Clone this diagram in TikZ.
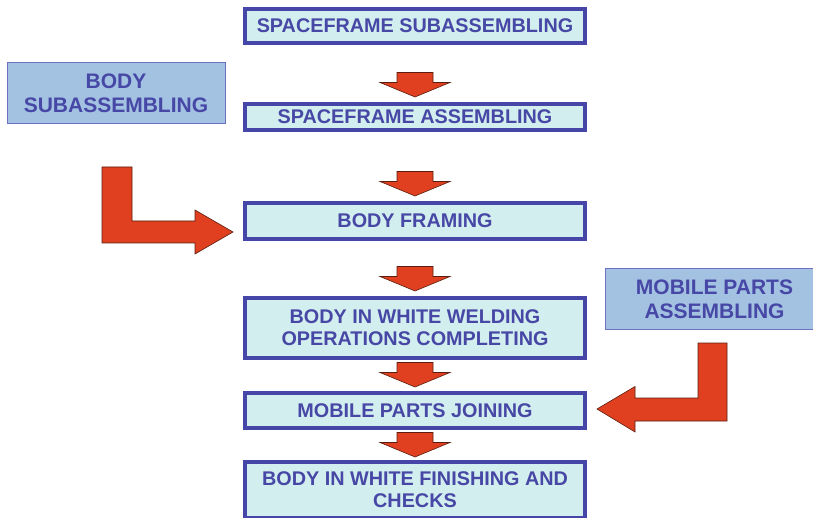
\documentclass[tikz,border=0pt]{standalone}
\usepackage{fontspec}
\setmainfont{Liberation Sans}
\usetikzlibrary{calc}

\definecolor{boxfill}{HTML}{D3EEEE}
\definecolor{boxline}{HTML}{4646A8}
\definecolor{inkblue}{HTML}{4747A6}
\definecolor{sidefill}{HTML}{A3C2E2}
\definecolor{sideline}{HTML}{7070C2}
\definecolor{arrowred}{HTML}{E0401F}
\definecolor{arrowedge}{HTML}{5A1E10}

\tikzset{
  stagebox/.style={draw=boxline, line width=4pt, fill=boxfill, text=inkblue,
    font=\bfseries\fontsize{19.8}{22}\selectfont, align=center,
    minimum width=340pt, inner sep=0pt},
  feedbox/.style={draw=sideline, line width=1pt, fill=sidefill, text=inkblue,
    font=\bfseries\fontsize{21}{24}\selectfont, align=center, inner sep=0pt},
  blockarrow/.style={fill=arrowred, draw=arrowedge, line width=0.6pt, line join=miter},
  downarrow/.pic={
    \draw[blockarrow] (0,0) -- (-35,-14.5) -- (-18,-14.5) -- (-18,-24.5)
      -- (18,-24.5) -- (18,-14.5) -- (35,-14.5) -- cycle;
  }
}

\begin{document}
\begin{tikzpicture}[x=1pt,y=-1pt]
  \useasboundingbox (0,0) rectangle (813,518);
  \clip (0,0) rectangle (813,518);

  % main assembly sequence
  \node[stagebox, minimum height=34pt] (b1) at (415,26) {SPACEFRAME SUBASSEMBLING};
  \node[stagebox, minimum height=26pt] (b2) at (415,117) {SPACEFRAME ASSEMBLING};
  \node[stagebox, minimum height=36pt] (b3) at (415,221) {BODY FRAMING};
  \node[stagebox, minimum height=60pt] (b4) at (415,328) {BODY IN WHITE WELDING\\OPERATIONS COMPLETING};
  \node[stagebox, minimum height=35pt] (b5) at (415,410.5) {MOBILE PARTS JOINING};
  \node[stagebox, minimum height=56pt] (b6) at (415,490) {BODY IN WHITE FINISHING AND\\CHECKS};

  % feeding sub-lines
  \node[feedbox, minimum width=218pt, minimum height=61pt] (bs) at (116,93.5) {BODY\\SUBASSEMBLING};
  \node[feedbox, minimum width=219pt, minimum height=60pt] (mp) at (714.5,299) {MOBILE PARTS\\ASSEMBLING};

  % flow arrows between stages
  \pic at ($(b2.north)+(0,-5)$) {downarrow};
  \pic at ($(b3.north)+(0,-5)$) {downarrow};
  \pic at ($(b4.north)+(0,-5)$) {downarrow};
  \pic at ($(b5.north)+(0,-4)$) {downarrow};
  \pic at ($(b6.north)+(0,-3)$) {downarrow};

  % bent arrow: body subassembling into body framing
  \coordinate (lt) at ($(b3.west)+(-10,11)$);
  \draw[blockarrow] (lt) -- ++(-38,-22) -- ++(0,11) -- ++(-63,0) -- ++(0,-54)
    -- ++(-30,0) -- ++(0,76) -- ++(93,0) -- ++(0,11) -- cycle;

  % bent arrow: mobile parts assembling into mobile parts joining
  \coordinate (rt) at ($(b5.east)+(10,-1.5)$);
  \draw[blockarrow] (rt) -- ++(38,-22.5) -- ++(0,11.5) -- ++(63,0) -- ++(0,-55)
    -- ++(29,0) -- ++(0,78) -- ++(-92,0) -- ++(0,11) -- cycle;
\end{tikzpicture}
\end{document}
